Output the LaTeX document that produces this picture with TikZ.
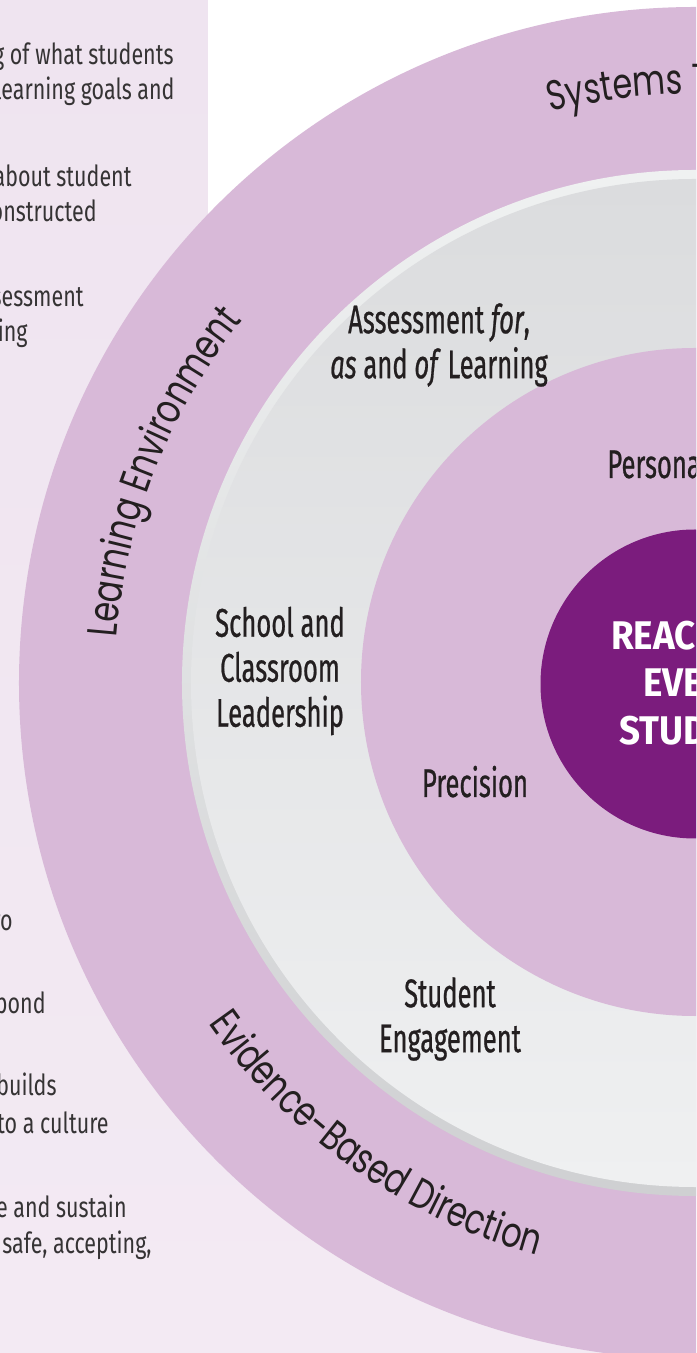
\documentclass[tikz,border=0pt]{standalone}
\usepackage{fontspec}
\setmainfont{Fira Sans}
\newfontfamily\condfont[FakeStretch=0.64,FakeBold=0.6]{Fira Sans}
\newfontfamily\panelfont[FakeStretch=0.74]{Fira Sans}
\newfontfamily\corefont[FakeStretch=0.92]{Fira Sans}
\newfontfamily\ringfont[FakeStretch=0.76]{Poppins}
\usetikzlibrary{decorations.text}
\definecolor{ringpurple}{HTML}{D8B9D8}
\definecolor{corepurple}{HTML}{7B1C7D}
\definecolor{inkblack}{HTML}{231F20}
\definecolor{panelgray}{HTML}{353334}
\definecolor{paneltop}{HTML}{EFE4F0}
\definecolor{panelmid}{HTML}{F7F2F8}
\definecolor{panelbot}{HTML}{F3EAF3}
\definecolor{rimlight}{HTML}{EFF1F1}
\definecolor{rimmid}{HTML}{E2E3E4}
\definecolor{rimdark}{HTML}{CFD0D2}
\definecolor{graytop}{HTML}{DBDCDE}
\definecolor{graymid}{HTML}{DDDEE0}
\definecolor{graybot}{HTML}{EFF0F1}
\begin{document}
\begin{tikzpicture}[x=0.5pt,y=0.5pt,
  label/.style={font=\condfont\fontsize{20}{22.5}\selectfont, text=inkblack,
    align=center, inner sep=0pt},
  paneltext/.style={font=\panelfont\fontsize{14.5}{17}\selectfont, text=panelgray,
    anchor=base east, inner sep=0pt},
  ringtext/.style={decorate, decoration={text along path, text color=inkblack,
    text={|\ringfont\fontsize{21}{21}\selectfont|#1}}}]
  \clip (-695,683) rectangle (1,-670);
  % background and panel
  \shade[top color=paneltop, middle color=panelmid, bottom color=panelbot]
    (-695,683) rectangle (1,-670);
  \fill[white] (-487,683) rectangle (1,0);
  % rings
  \fill[ringpurple] (0,0) circle (676);
  \shade[top color=rimlight, middle color=rimmid, bottom color=rimdark] (0,0) circle (513);
  \shade[top color=graytop, middle color=graymid, bottom color=graybot] (0,0) circle (504);
  \fill[ringpurple] (0,1) circle (334);
  \fill[corepurple] (0,-1) circle (154.5);
  % ring texts
  \path[ringtext=Learning Environment] (175.5:580) arc[start angle=175.5, end angle=100, radius=580];
  \path[ringtext=Systems Thinking] (104.2:589) arc[start angle=104.2, end angle=40, radius=589];
  \path[ringtext=Evidence-Based Direction] (215:594) arc[start angle=215, end angle=290, radius=594];
  % labels
  \node[label] (assess) at (-256,338) {Assessment \textit{for},\\\textit{as} and \textit{of} Learning};
  \node[label] (leader) at (-415,12) {School and\\Classroom\\Leadership};
  \node[label, anchor=base] (precision) at (-220,-114) {Precision};
  \node[label] (engage) at (-245,-336) {Student\\Engagement};
  \node[label, anchor=base west] (personal) at (-88,205) {Personalization};
  \node[font=\corefont\bfseries\fontsize{20}{23.75}\selectfont, text=white, align=center,
    inner sep=0pt] (core) at (0,0) {REACHING\\EVERY\\STUDENT};
  % panel text
  \node[paneltext] (p1) at (-521,618) {g of what students};
  \node[paneltext] (p2) at (-520,583) {learning goals and};
  \node[paneltext] (p3) at (-563,496) {about student};
  \node[paneltext] (p4) at (-598,461) {onstructed};
  \node[paneltext] (p5) at (-611,376) {sessment};
  \node[paneltext] (p6) at (-667,341) {ing};
  \node[paneltext] (p7) at (-682,-247) {ro};
  \node[paneltext] (p8) at (-649,-330) {pond};
  \node[paneltext] (p9) at (-638,-412) {builds};
  \node[paneltext] (p10) at (-586,-450) {to a culture};
  \node[paneltext] (p11) at (-568,-534) {e and sustain};
  \node[paneltext] (p12) at (-543,-570) {safe, accepting,};
\end{tikzpicture}
\end{document}
